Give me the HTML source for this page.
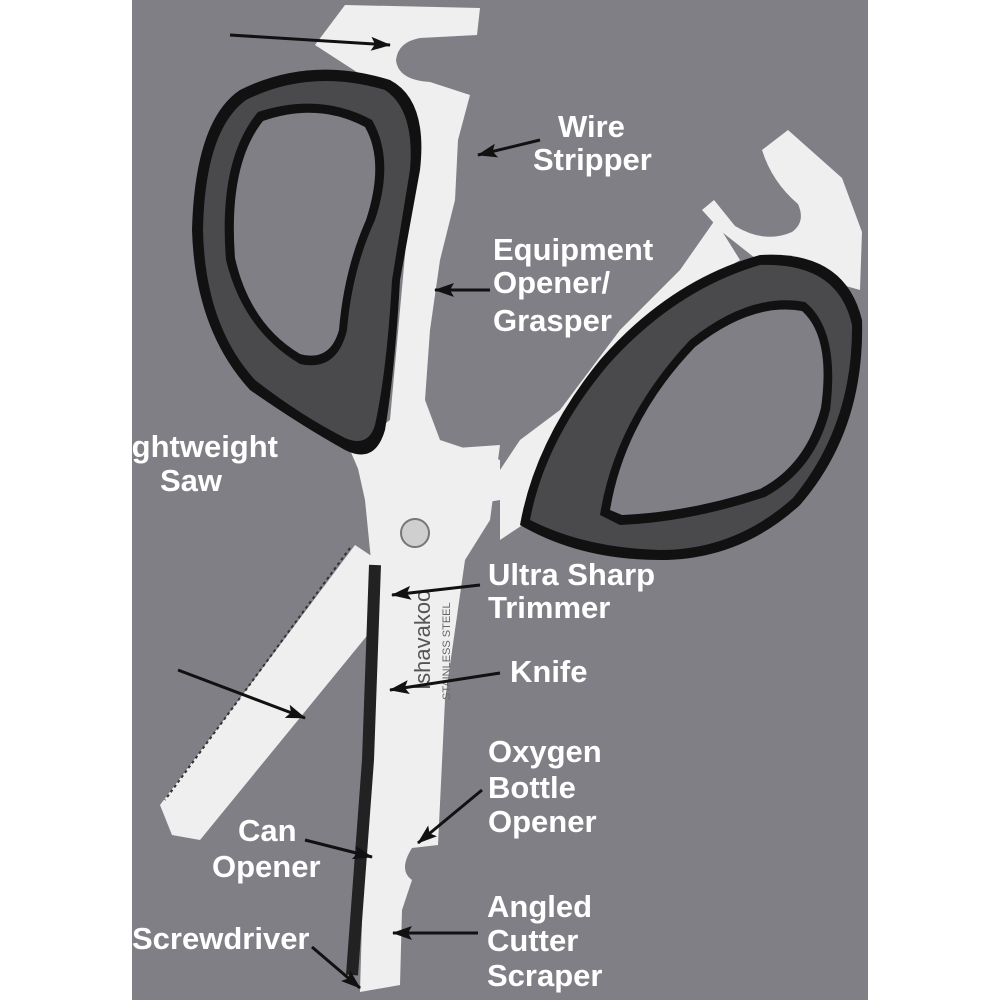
<!DOCTYPE html>
<html><head><style>body{margin:0;background:#fff}svg{display:block}</style></head>
<body>
<svg width="1000" height="1000" viewBox="0 0 1000 1000" xmlns="http://www.w3.org/2000/svg">
<defs>
<marker id="a" markerWidth="20" markerHeight="14" refX="19" refY="7" orient="auto" markerUnits="userSpaceOnUse" viewBox="0 0 20 14"><path d="M0,0 L20,7 L0,14 L4,7 z" fill="#111"/></marker>
</defs>
<rect x="0" y="0" width="1000" height="1000" fill="#fff"/>
<rect x="132" y="0" width="736" height="1000" fill="#807f86"/>

<!-- upper left steel (hook + toothed strip) -->
<path d="M315,45 L345,5 L480,8 L477,35 L420,38 Q398,42 396,60 Q398,80 430,82 L470,95 L458,140 L455,200 L440,260 L430,330 L425,400 L440,440 L500,460 L500,500 L380,520 L350,450 L390,420 L410,200 L400,100 Z" fill="#efefef"/>
<!-- right steel hook -->
<path d="M762,150 L788,130 L842,178 L862,232 L860,290 L760,262 L722,232 L702,210 L714,200 L735,226 Q765,244 792,232 Q806,222 798,204 Q772,182 762,150 Z" fill="#efefef"/>
<!-- right toothed strip -->
<path d="M500,470 L520,440 L560,410 L620,330 L680,270 L715,220 L740,260 L640,320 L580,420 L530,520 L500,540 Z" fill="#efefef"/>

<!-- left handle -->
<path d="M240,90 Q310,55 390,80 Q428,100 420,170 L400,280 Q395,370 385,430 Q375,465 345,450 Q300,425 250,390 Q195,330 192,230 Q195,120 240,90 Z" fill="#111"/>
<path d="M246,100 Q310,68 385,90 Q415,110 410,170 L392,280 Q387,370 375,425 Q368,448 345,438 Q300,415 255,380 Q205,325 203,230 Q205,130 246,100 Z" fill="#4a4a4d"/>
<path d="M258,112 Q320,92 372,120 Q395,160 375,220 Q352,270 347,330 Q337,372 300,364 Q243,330 226,260 Q218,160 258,112 Z" fill="#111"/>
<path d="M263,121 Q318,102 365,127 Q385,162 366,220 Q344,270 339,330 Q330,362 300,354 Q250,324 235,258 Q228,165 263,121 Z" fill="#807f86"/>

<!-- right handle -->
<path d="M520,525 Q535,440 600,360 Q670,280 760,255 Q845,250 862,320 Q865,430 800,505 Q740,560 660,560 Q580,560 520,525 Z" fill="#111"/>
<path d="M530,520 Q545,440 608,365 Q675,290 760,265 Q838,262 852,325 Q853,425 793,498 Q735,550 660,550 Q585,548 530,520 Z" fill="#4a4a4d"/>
<path d="M600,515 Q615,420 690,340 Q750,292 805,302 Q840,330 830,410 Q815,470 765,497 Q690,522 620,525 Z" fill="#111"/>
<path d="M610,510 Q625,420 695,347 Q752,302 802,311 Q831,337 821,408 Q806,465 760,489 Q690,512 622,515 Z" fill="#807f86"/>

<!-- saw blade -->
<path d="M355,545 L385,565 L388,610 L200,840 L172,835 L160,805 Z" fill="#efefef"/>
<path d="M350,548 L165,800" stroke="#333" stroke-width="2" stroke-dasharray="3,3"/>
<!-- pivot area & knife blade -->
<path d="M355,455 L500,445 L490,520 L465,560 L445,700 L438,845 L412,848 Q398,870 412,880 L402,910 L400,985 L360,992 L372,570 L365,500 Z" fill="#efefef"/>
<path d="M375,565 L368,760 L352,975" stroke="#222" stroke-width="12" fill="none"/>
<circle cx="415" cy="533" r="14" fill="#cfcfcf" stroke="#777" stroke-width="2"/>
<text x="0" y="0" transform="translate(430,690) rotate(-90)" font-family="Liberation Sans, sans-serif" font-size="22" fill="#555">Ishavakoo</text>
<text x="0" y="0" transform="translate(450,700) rotate(-90)" font-family="Liberation Sans, sans-serif" font-size="11" fill="#666">STAINLESS STEEL</text>

<!-- arrows -->
<g stroke="#111" stroke-width="3" fill="none" marker-end="url(#a)">
<line x1="230" y1="35" x2="390" y2="45"/>
<line x1="540" y1="140" x2="478" y2="155"/>
<line x1="490" y1="290" x2="435" y2="290"/>
<line x1="480" y1="585" x2="392" y2="595"/>
<line x1="500" y1="673" x2="390" y2="690"/>
<line x1="178" y1="670" x2="305" y2="718"/>
<line x1="482" y1="790" x2="418" y2="843"/>
<line x1="305" y1="840" x2="372" y2="857"/>
<line x1="312" y1="947" x2="360" y2="988"/>
<line x1="478" y1="933" x2="393" y2="933"/>
</g>

<g font-family="Liberation Sans, sans-serif" font-weight="bold" font-size="31" fill="#fff">
<text x="558" y="137">Wire</text>
<text x="533" y="170">Stripper</text>
<text x="493" y="260">Equipment</text>
<text x="493" y="293">Opener/</text>
<text x="493" y="331">Grasper</text>
<text x="278" y="457" text-anchor="end">Lightweight</text>
<text x="160" y="491">Saw</text>
<text x="488" y="585">Ultra Sharp</text>
<text x="488" y="618">Trimmer</text>
<text x="510" y="682">Knife</text>
<text x="488" y="762">Oxygen</text>
<text x="488" y="798">Bottle</text>
<text x="488" y="832">Opener</text>
<text x="238" y="841">Can</text>
<text x="212" y="877">Opener</text>
<text x="132" y="949">Screwdriver</text>
<text x="487" y="917">Angled</text>
<text x="487" y="951">Cutter</text>
<text x="487" y="986">Scraper</text>
</g>
<rect x="0" y="400" width="132" height="120" fill="#fff"/>
</svg>
</body></html>
